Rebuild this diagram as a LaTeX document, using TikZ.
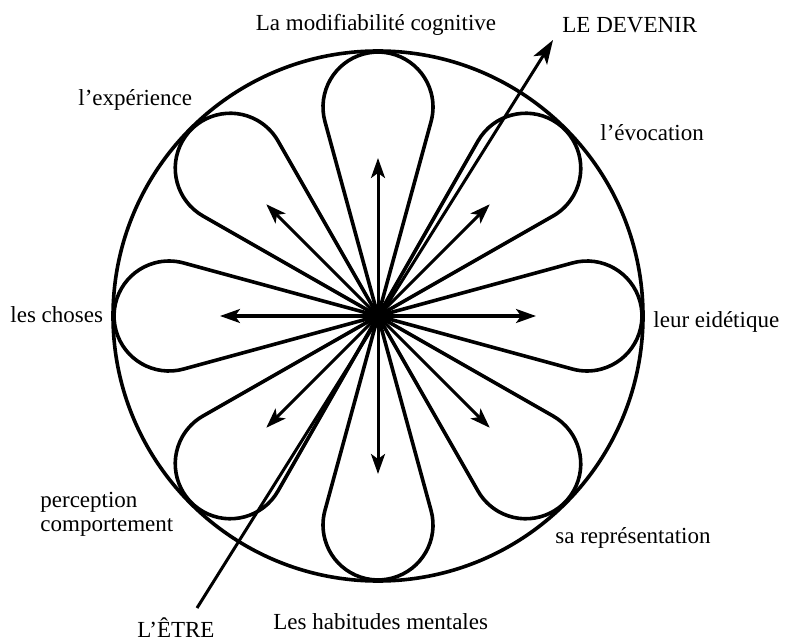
\documentclass[tikz,border=0pt]{standalone}
\usepackage{fontspec}
\setmainfont{Liberation Serif}
\usetikzlibrary{positioning, calc, arrows.meta}

\begin{document}
\begin{tikzpicture}[
  x=0.5pt, y=0.5pt,
  petal/.style={line width=1.8pt, line join=round},
  ring/.style={line width=1.8pt},
  arr/.style={-{Stealth[length=10pt, width=7pt, inset=2.5pt]}, line width=1.5pt},
  lbl/.style={font=\fontsize{11.5}{12}\selectfont, inner sep=0pt, anchor=west}
]
\useasboundingbox (0,0) rectangle (807,643);
\coordinate (c) at (378,327);

% outer circle
\draw[ring] (c) circle (265);

% the eight petals
\foreach \a in {0,45,...,315}{
  \begin{scope}[shift={(c)}, rotate=\a]
    \draw[petal] (0,0) -- (15.26:201.6) arc[start angle=105.26, end angle=-105.26, radius=55] -- cycle;
  \end{scope}
}

% arrows from the centre
\foreach \a [count=\i] in {0,45,...,315}{
  \path (c) ++(\a:158) coordinate (tip\i);
  \draw[arr] (c) -- (tip\i);
}
\fill (c) circle (12);

% l'etre -> le devenir
\coordinate (etre) at (197,35);
\coordinate (devenir) at (553,603);
\draw[arr, -{Stealth[length=12pt, width=8pt, inset=3pt]}] (etre) -- (devenir);

% labels
\node[lbl, anchor=center] (modif) at (376,618) {La modifiabilité cognitive};
\node[lbl] (ledev) at (562,618) {LE DEVENIR};
\node[lbl] (exper) at (78,543) {l'expérience};
\node[lbl] (evoc) at (600,510) {l'évocation};
\node[lbl] (choses) at (10,328) {les choses};
\node[lbl] (eidet) at (653,321) {leur eidétique};
\node[lbl, align=left] (percep) at (40,129) {perception\\comportement};
\node[lbl] (repr) at (555,105) {sa représentation};
\node[lbl] (letre) at (137,15) {L'ÊTRE};
\node[lbl] (habit) at (273,21) {Les habitudes mentales};
\end{tikzpicture}
\end{document}
